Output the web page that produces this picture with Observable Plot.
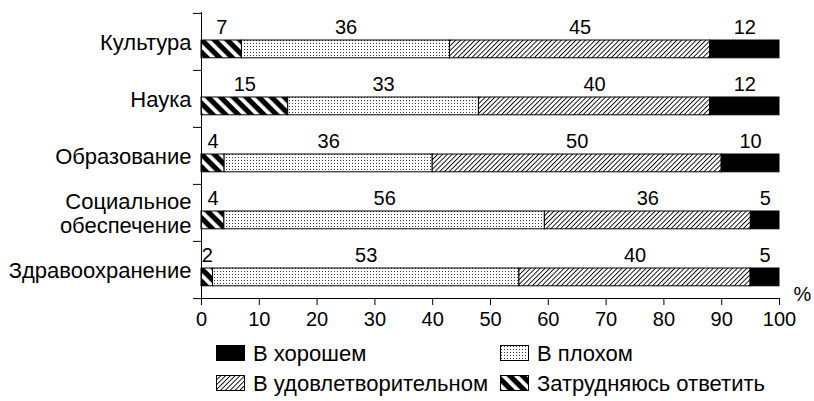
<!DOCTYPE html>
<html><head><meta charset="utf-8">
<script src="https://cdn.jsdelivr.net/npm/d3@7"></script>
<script src="https://cdn.jsdelivr.net/npm/@observablehq/plot@0.6"></script>
<style>
body{margin:0;background:#fff;font-family:"Liberation Sans",Arial,sans-serif;}
#wrap{position:relative;width:814px;height:401px;overflow:hidden;}
#legend{position:absolute;left:216px;top:345px;display:grid;grid-template-columns:284px 310px;row-gap:14px;}
.leg{display:flex;align-items:center;font-size:22px;line-height:15px;color:#000;white-space:nowrap;}
.leg svg{margin-right:8px;flex:none;}
</style></head><body><div id="wrap"></div>
<script>
const categories = ["Культура", "Наука", "Образование", "Социальное\nобеспечение", "Здравоохранение"];
const seriesNames = ["Затрудняюсь ответить", "В плохом", "В удовлетворительном", "В хорошем"];
const hardToSay = [7, 15, 4, 4, 2];
const bad = [36, 33, 36, 56, 53];
const satisfactory = [45, 40, 50, 36, 40];
const good = [12, 12, 10, 5, 5];
const xTickLabels = [0, 10, 20, 30, 40, 50, 60, 70, 80, 90, 100];
const legendOrder = ["В хорошем", "В плохом", "В удовлетворительном", "Затрудняюсь ответить"];

const seriesValues = [hardToSay, bad, satisfactory, good];
const fills = ["url(#pHard)", "url(#pDots)", "url(#pHatch)", "#000"];
const data = [];
seriesNames.forEach((s, si) => categories.forEach((c, ci) => data.push({cat: c, series: s, value: seriesValues[si][ci]})));

const W = 814, H = 335, plotTop = 12, plotBottom = 298;
const bw = (plotBottom - plotTop) / categories.length;
const font = "Liberation Sans, Arial, sans-serif";

const chart = Plot.plot({
  width: W, height: H,
  marginLeft: 201, marginRight: 35, marginTop: plotTop, marginBottom: H - plotBottom,
  style: {fontFamily: font, fontSize: "20px", color: "#000", background: "#fff", overflow: "visible"},
  x: {domain: [0, 1]},
  y: {domain: categories, padding: 0},
  color: {type: "ordinal", domain: seriesNames, range: fills},
  marks: [
    Plot.barX(data, Plot.stackX({x: "value", y: "cat", z: "series", fill: "series", offset: "normalize",
      stroke: "#000", strokeWidth: 1, insetTop: 27, insetBottom: 12.2})),
    Plot.text(data, Plot.stackX({x: "value", y: "cat", z: "series", offset: "normalize", text: "value",
      dy: -14, fontSize: 20, fill: "#000"})),
    Plot.ruleX([0], {stroke: "#000", strokeWidth: 1}),
    Plot.frame({anchor: "bottom", stroke: "#000", strokeWidth: 1}),
    Plot.axisX(xTickLabels.map(d => d / 100), {tickSize: 7, tickPadding: 6, fontSize: 20,
      tickFormat: d => String(Math.round(d * 100)), label: null, stroke: "#000"}),
    Plot.axisY({tickSize: 0, tickPadding: 10, fontSize: 22, label: null, lineHeight: 1.1}),
    Plot.axisY(categories, {tickSize: 8, tickFormat: () => "", dy: -bw / 2, label: null, stroke: "#000"}),
    Plot.axisY([categories[categories.length - 1]], {tickSize: 8, tickFormat: () => "", dy: bw / 2, label: null, stroke: "#000"}),
    Plot.text(["%"], {frameAnchor: "bottom-right", textAnchor: "middle", lineAnchor: "middle", dx: 23, dy: -4, fontSize: 20, fill: "#000", text: d => d})
  ]
});

const defs = document.createElementNS("http://www.w3.org/2000/svg", "defs");
defs.innerHTML = `
<pattern id="pHard" patternUnits="userSpaceOnUse" width="9" height="9" patternTransform="rotate(-45)">
  <rect width="9" height="9" fill="#000"/>
  <rect x="0" y="0" width="3.8" height="9" fill="#fff"/>
</pattern>
<pattern id="pDots" patternUnits="userSpaceOnUse" width="3" height="3">
  <rect width="3" height="3" fill="#fff"/>
  <rect x="1" y="1" width="1" height="1" fill="#333"/>
</pattern>
<pattern id="pHatch" patternUnits="userSpaceOnUse" width="3.4" height="3.4" patternTransform="rotate(45)">
  <rect width="3.4" height="3.4" fill="#fff"/>
  <rect x="0" y="0" width="0.9" height="3.4" fill="#000"/>
</pattern>`;
chart.insertBefore(defs, chart.firstChild);

const wrap = document.getElementById("wrap");
wrap.appendChild(chart);

const legend = document.createElement("div");
legend.id = "legend";
legendOrder.forEach(name => {
  const i = seriesNames.indexOf(name);
  const item = document.createElement("div");
  item.className = "leg";
  item.innerHTML = `<svg width="29" height="16"><rect x="0.5" y="0.5" width="28" height="15" fill="${fills[i]}" stroke="#000" stroke-width="1"/></svg><span>${name}</span>`;
  legend.appendChild(item);
});
wrap.appendChild(legend);
</script></body></html>
